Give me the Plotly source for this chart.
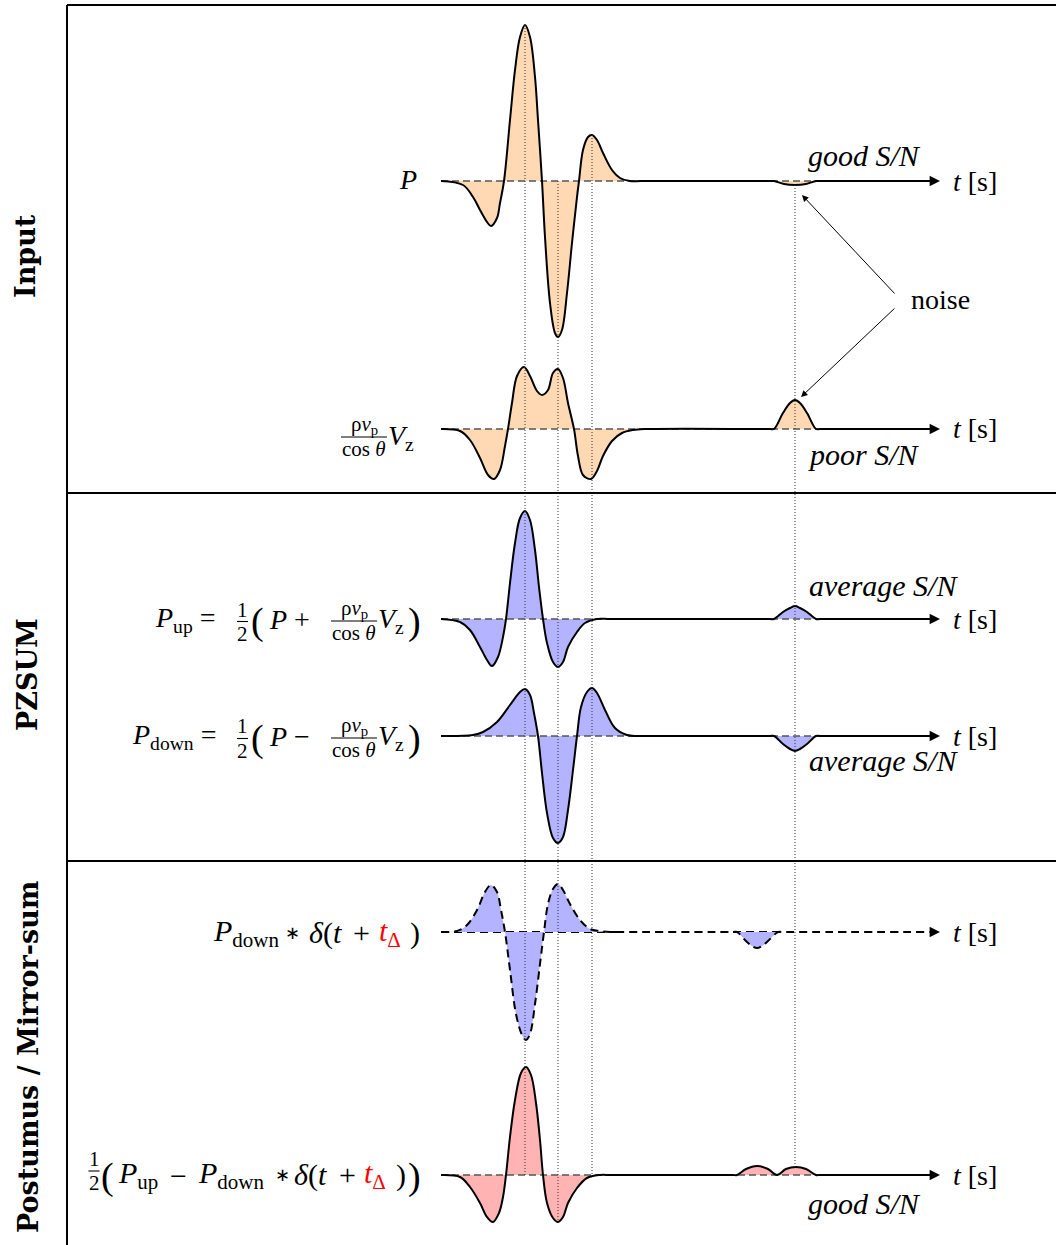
import plotly.graph_objects as go

W, H = 1056, 1245
SERIF = "Liberation Serif"
BOLD = "DejaVu Serif"

# ---------------- data (time in ms from trace start, amplitude arbitrary) -------------
t_P = [0, 22, 32, 39, 46, 50, 56, 59, 63, 69, 74, 79, 84, 89, 94, 97, 101, 104, 109, 114,
       117, 121, 126, 131, 136, 138, 142, 147, 151, 156, 162, 171, 179, 189, 200, 329, 333,
       343, 354, 365, 375, 379, 489]
a_P = [0, -4, -16, -29, -41, -45, -37, -22, 0, 61, 111, 144, 156, 144, 104, 61, 0, -56, -122,
       -152, -156, -149, -112, -62, -16, 0, 31, 44, 46, 41, 28, 11, 3, 0, 0, 0, 0, -3, -4, -3,
       0, 0, 0]

t_V = [0, 19, 29, 39, 47, 53, 59, 64, 67, 71, 76, 83, 89, 96, 101, 107, 112, 117, 122, 127,
       133, 137, 142, 150, 156, 162, 171, 181, 192, 205, 329, 333, 342, 349, 354, 359, 366,
       375, 379, 489]
a_V = [0, -2, -11, -29, -46, -50, -41, -17, 0, 26, 53, 62, 53, 38, 34, 39, 56, 60, 51, 26,
       0, -27, -46, -50, -42, -27, -12, -4, -1, 0, 0, 0, 16, 26, 29, 26, 16, 0, 0, 0]

t_U = [0, 19, 29, 39, 46, 51, 57, 62, 65, 69, 74, 79, 84, 89, 94, 98, 102, 106, 112, 117,
       122, 127, 136, 144, 156, 170, 329, 333, 342, 349, 354, 359, 366, 375, 379, 489]
a_U = [0, -3, -11, -28, -41, -47, -38, -18, 0, 36, 76, 101, 108, 99, 69, 32, 0, -24, -43, -48,
       -43, -28, -13, -4, 0, 0, 0, 0, 7, 11, 13, 11, 7, 0, 0, 0]

t_D = [0, 32, 42, 56, 69, 79, 84, 89, 93, 97, 101, 106, 112, 117, 122, 127, 132, 136, 140,
       146, 151, 156, 164, 174, 186, 196, 210, 329, 333, 342, 349, 354, 359, 366, 375, 379, 489]
a_D = [0, 1, 4, 14, 31, 44, 47, 41, 23, 0, -37, -77, -102, -107, -101, -74, -34, 0, 29, 44,
       48, 43, 26, 8, 1, 0, 0, 0, 0, -8, -13, -15, -13, -8, 0, 0, 0]

t_S = [0, 16, 26, 36, 44, 50, 56, 60, 64, 69, 75, 81, 85, 89, 94, 99, 103, 107, 112, 117,
       122, 129, 139, 149, 159, 169, 180, 292, 296, 305, 311, 316, 321, 327, 337, 341, 489]
a_S = [0, 1, 7, 22, 40, 47, 40, 22, 0, -38, -82, -103, -108, -102, -72, -32, 0, 28, 43, 48,
       42, 28, 12, 3, 1, 0, 0, 0, 0, -9, -14, -16, -14, -9, 0, 0, 0]

t_F = [0, 19, 29, 39, 46, 52, 58, 62, 65, 69, 74, 80, 85, 90, 95, 99, 102, 106, 112, 117,
       122, 127, 136, 146, 159, 170, 292, 296, 305, 316, 327, 336, 345, 355, 365, 375, 379, 489]
a_F = [0, -2, -12, -28, -42, -47, -38, -22, 0, 38, 75, 102, 108, 100, 72, 35, 0, -28, -43, -47,
       -42, -28, -13, -3, 0, 0, 0, 0, 6, 9, 6, 0, 6, 8, 6, 0, 0, 0]

guide_t = [84, 117, 151, 354]
t_end = 499

# ---------------- layout helpers -------------
ORANGE = "#FFD9B3"
BLUE = "#B3B3FF"
RED = "#FFB3B3"

rows = [
    dict(t=t_P, a=a_P, base=181, fill=ORANGE, dashed=False),
    dict(t=t_V, a=a_V, base=429, fill=ORANGE, dashed=False),
    dict(t=t_U, a=a_U, base=619, fill=BLUE, dashed=False),
    dict(t=t_D, a=a_D, base=736, fill=BLUE, dashed=False),
    dict(t=t_S, a=a_S, base=932, fill=BLUE, dashed=True),
    dict(t=t_F, a=a_F, base=1175, fill=RED, dashed=False),
]
guide_span = [(25, 1175), (181, 1222), (135, 1175), (185, 1168)]
T0_PX = 441  # pixel of t = 0

fig = go.Figure()
layout = dict(
    width=W, height=H, margin=dict(l=0, r=0, t=0, b=0),
    paper_bgcolor="white", plot_bgcolor="rgba(0,0,0,0)", showlegend=False,
    xaxis=dict(domain=[0, 1], range=[-T0_PX, W - T0_PX], visible=False, fixedrange=True),
)
annotations = []
shapes = []

for k, r in enumerate(rows, start=1):
    yname = "y" if k == 1 else f"y{k}"
    lname = "yaxis" if k == 1 else f"yaxis{k}"
    b = r["base"]
    layout[lname] = dict(domain=[0, 1], range=[-(H - b), b],
                         visible=False, fixedrange=True, anchor="x")
    tmin, tmax = r["t"][0], r["t"][-1]
    if r["dashed"]:
        fig.add_trace(go.Scatter(x=[tmin, 180], y=[0, 0], mode="lines",
                                 line=dict(color="black", width=2, dash="8px,5px"),
                                 xaxis="x", yaxis=yname, hoverinfo="skip"))
        fig.add_trace(go.Scatter(x=[292, 341], y=[0, 0], mode="lines",
                                 line=dict(color="black", width=2, dash="8px,5px"),
                                 xaxis="x", yaxis=yname, hoverinfo="skip"))
        fig.add_trace(go.Scatter(x=[tmin, tmax], y=[0, 0], mode="lines",
                                 line=dict(color="rgba(0,0,0,0)", width=0),
                                 xaxis="x", yaxis=yname, hoverinfo="skip"))
        wave_line = dict(color="black", width=2, dash="8px,5px", shape="spline", smoothing=1)
    else:
        fig.add_trace(go.Scatter(x=[tmin, tmax], y=[0, 0], mode="lines",
                                 line=dict(color="#555555", width=1.5, dash="7px,4px"),
                                 xaxis="x", yaxis=yname, hoverinfo="skip"))
        wave_line = dict(color="black", width=2, shape="spline", smoothing=1)
    fig.add_trace(go.Scatter(x=r["t"], y=r["a"], mode="lines", line=wave_line,
                             fill="tonexty", fillcolor=r["fill"],
                             xaxis="x", yaxis=yname, hoverinfo="skip"))
    # axis arrow
    annotations.append(dict(x=t_end, y=0, xref="x", yref=yname, ax=tmax, ay=0,
                            axref="x", ayref=yname, showarrow=True, text="",
                            arrowhead=2, arrowsize=1.3, arrowwidth=1.6, arrowcolor="black"))


def px(x):
    return x / W


def py(y):
    return 1 - y / H


def txt(x, y, s, size=28, xanchor="center", color="black", family=SERIF, **kw):
    annotations.append(dict(x=px(x), y=py(y), xref="paper", yref="paper", text=s,
                            showarrow=False, xanchor=xanchor, yanchor="middle",
                            font=dict(size=size, color=color, family=family), **kw))


def hline(x0, x1, y, width=1.0, color="black"):
    shapes.append(dict(type="line", xref="paper", yref="paper", x0=px(x0), x1=px(x1),
                       y0=py(y), y1=py(y), line=dict(color=color, width=width), layer="above"))


def vline(x, y0, y1, width=1.0, color="black"):
    shapes.append(dict(type="line", xref="paper", yref="paper", x0=px(x), x1=px(x),
                       y0=py(y0), y1=py(y1), line=dict(color=color, width=width), layer="above"))


def frac(cx, ybar, num, den, w, size=21):
    txt(cx, ybar - 12, num, size=size)
    txt(cx, ybar + 12, den, size=size)
    hline(cx - w / 2, cx + w / 2, ybar, width=1.1)


# dotted guides
for t, (y0, y1) in zip(guide_t, guide_span):
    shapes.append(dict(type="line", xref="x", yref="paper", x0=t, x1=t, y0=py(y0), y1=py(y1),
                       line=dict(color="#333333", width=1, dash="1px,2px"), layer="above"))

# frame
hline(67, W, 5, width=2)
hline(67, W, 493, width=2)
hline(67, W, 861, width=2)
vline(67, 5, H, width=2)

# panel labels
txt(26, 256, "<b>Input</b>", size=27, family=BOLD, textangle=-90)
txt(27, 675, "<b>PZSUM</b>", size=27, family=BOLD, textangle=-90)
txt(28, 1057, "<b>Postumus / Mirror-sum</b>", size=27, family=BOLD, textangle=-90)

RHO = "ρ<i>v</i><sub>p</sub>"
COS = "cos <i>θ</i>"
TD = "<i>t</i><sub>Δ</sub>"

# row 1
txt(419, 179, "<i>P</i>", xanchor="right")
# row 2
frac(364, 437, RHO, COS, 46)
txt(386, 437, "<i>V</i><sub>z</sub>", xanchor="left")
# row 3 and 4
for yb, name, op in [(619, "up", "+"), (736, "down", "−")]:
    txt(218, yb, f"<i>P</i><sub>{name}</sub> =", xanchor="right")
    frac(242.5, yb + 2.5, "1", "2", 11)
    txt(257, yb + 2, "(", size=38)
    txt(267, yb, f"<i>P</i> {op}", xanchor="left")
    frac(354, yb + 2, RHO, COS, 46)
    txt(376, yb + 1, "<i>V</i><sub>z</sub>", xanchor="left")
    txt(414, yb + 2, ")", size=38)
# row 5
txt(211, 933, "<i>P</i><sub>down</sub>", size=30, xanchor="left")
txt(292, 932, "∗", size=18, family="DejaVu Sans")
txt(307, 933, "<i>δ</i>(<i>t</i>", size=30, xanchor="left")
txt(361, 932, "+", size=30)
txt(377, 933, TD, size=30, xanchor="left", color="red")
txt(408, 933, ")", size=30, xanchor="left")
# row 6
frac(94, 1171, "1", "2", 11)
txt(107.5, 1176, "(", size=38)
txt(116, 1175, "<i>P</i><sub>up</sub>", size=30, xanchor="left")
txt(178.5, 1175, "−", size=30)
txt(196, 1175, "<i>P</i><sub>down</sub>", size=30, xanchor="left")
txt(282, 1174, "∗", size=18, family="DejaVu Sans")
txt(292, 1175, "<i>δ</i>(<i>t</i>", size=30, xanchor="left")
txt(347, 1174, "+", size=30)
txt(362, 1175, TD, size=30, xanchor="left", color="red")
txt(394, 1175, ")", size=30, xanchor="left")
txt(414, 1176, ")", size=38)

# axis labels
for r in rows:
    txt(951, r["base"], "<i>t</i> [s]", xanchor="left")

# S/N labels
txt(806, 155, "<i>good S/N</i>", size=30, xanchor="left")
txt(806, 454, "<i>poor S/N</i>", size=30, xanchor="left")
txt(807, 586, "<i>average S/N</i>", size=30, xanchor="left")
txt(807, 760, "<i>average S/N</i>", size=30, xanchor="left")
txt(806, 1203, "<i>good S/N</i>", size=30, xanchor="left")

# noise
txt(909, 299, "noise", xanchor="left")
annotations.append(dict(x=px(802), y=py(195), xref="paper", yref="paper", text="",
                        showarrow=True, ax=94, ay=100, arrowhead=2, arrowsize=1.3,
                        arrowwidth=1, arrowcolor="black"))
annotations.append(dict(x=px(801), y=py(397), xref="paper", yref="paper", text="",
                        showarrow=True, ax=95, ay=-90, arrowhead=2, arrowsize=1.3,
                        arrowwidth=1, arrowcolor="black"))

layout["annotations"] = annotations
layout["shapes"] = shapes
fig.update_layout(**layout)
fig.write_html("out.html")
